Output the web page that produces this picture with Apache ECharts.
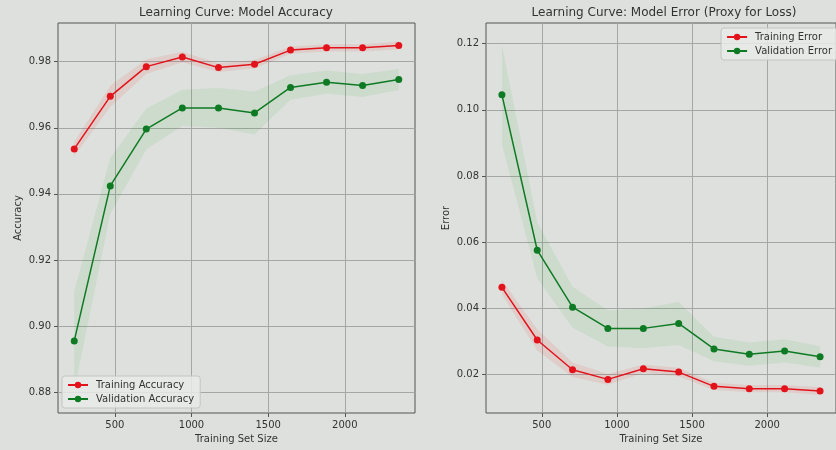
<!DOCTYPE html>
<html>
<head>
<meta charset="utf-8">
<script src="https://cdn.jsdelivr.net/npm/echarts@6/dist/echarts.min.js"></script>
<style>
  html, body { margin: 0; padding: 0; background: #dde0dd; }
  #chart { width: 836px; height: 450px; }
</style>
</head>
<body>
<div id="chart"></div>
<script>
// Learning-curve results (mean over CV folds, with fold std)
const trainSizes = [235, 470, 705, 940, 1176, 1411, 1646, 1881, 2116, 2352];
const trainAcc = [0.9536, 0.9695, 0.9785, 0.9814, 0.9782, 0.9792, 0.9835, 0.9842, 0.9842, 0.9849];
const valAcc   = [0.8955, 0.9424, 0.9596, 0.9660, 0.9660, 0.9645, 0.9722, 0.9738, 0.9728, 0.9746];
const trainErr = [0.0464, 0.0305, 0.0215, 0.0186, 0.0218, 0.0208, 0.0165, 0.0158, 0.0158, 0.0151];
const valErr   = [0.1045, 0.0576, 0.0404, 0.0340, 0.0340, 0.0355, 0.0278, 0.0262, 0.0272, 0.0254];
const trainStd = [0.0022, 0.0032, 0.0022, 0.0016, 0.0013, 0.0013, 0.0011, 0.0011, 0.0011, 0.0012];
const valStd   = [0.0150, 0.0085, 0.0062, 0.0055, 0.0060, 0.0065, 0.0037, 0.0035, 0.0035, 0.0032];

const xTicks = [500, 1000, 1500, 2000];
const accTicks = [0.88, 0.90, 0.92, 0.94, 0.96, 0.98];
const errTicks = [0.02, 0.04, 0.06, 0.08, 0.10, 0.12];

const RED = '#e3131c';
const GREEN = '#0e7a23';
const FONT = 'DejaVu Sans';
const TEXT = '#333';

const chart = echarts.init(document.getElementById('chart'), null, { renderer: 'canvas' });

function pairs(xs, ys) { return xs.map((x, i) => [x, ys[i]]); }

// Shaded ±std band drawn as a single polygon in axis coordinates
function band(gridIdx, mean, std, fill) {
  return {
    type: 'custom',
    xAxisIndex: gridIdx,
    yAxisIndex: gridIdx,
    silent: true,
    clip: true,
    z: 1,
    data: [[trainSizes[0], mean[0]]],
    renderItem: function (params, api) {
      const upper = trainSizes.map((x, i) => api.coord([x, mean[i] + std[i]]));
      const lower = trainSizes.map((x, i) => api.coord([x, mean[i] - std[i]])).reverse();
      return {
        type: 'polygon',
        shape: { points: upper.concat(lower) },
        style: { fill: fill, stroke: null, shadowBlur: 4, shadowColor: fill }
      };
    }
  };
}

function line(gridIdx, name, xs, ys, color) {
  return {
    type: 'line',
    name: name,
    xAxisIndex: gridIdx,
    yAxisIndex: gridIdx,
    data: pairs(xs, ys),
    symbol: 'circle',
    symbolSize: 7,
    z: 3,
    lineStyle: { color: color, width: 1.5 },
    itemStyle: { color: color }
  };
}

function xAxis(gridIdx) {
  return {
    type: 'value',
    gridIndex: gridIdx,
    min: 129,
    max: 2458,
    name: 'Training Set Size',
    nameLocation: 'middle',
    nameGap: 21,
    nameTextStyle: { fontFamily: FONT, fontSize: 10, color: TEXT },
    axisLine: { show: false },
    axisTick: { show: true, inside: false, length: 4, lineStyle: { color: '#555' }, customValues: xTicks },
    axisLabel: { fontFamily: FONT, fontSize: 10, color: TEXT, margin: 7, customValues: xTicks,
      formatter: v => String(Math.round(v)) },
    splitLine: { show: true, lineStyle: { color: '#a4a7a5', width: 1 } }
  };
}

function yAxis(gridIdx, name, min, max, ticks) {
  return {
    type: 'value',
    gridIndex: gridIdx,
    min: min,
    max: max,
    name: name,
    nameLocation: 'middle',
    nameGap: 35,
    nameTextStyle: { fontFamily: FONT, fontSize: 10, color: TEXT },
    axisLine: { show: false },
    axisTick: { show: true, inside: false, length: 4, lineStyle: { color: '#555' }, customValues: ticks },
    axisLabel: {
      fontFamily: FONT, fontSize: 10, color: TEXT, margin: 7, customValues: ticks,
      formatter: v => v.toFixed(2)
    },
    splitLine: { show: true, lineStyle: { color: '#a4a7a5', width: 1 } }
  };
}

const legendCommon = {
  orient: 'vertical',
  itemWidth: 20,
  itemHeight: 8,
  itemGap: 4,
  padding: [4, 6, 4, 5],
  backgroundColor: 'rgba(232,234,232,0.85)',
  borderColor: '#c4c6c4',
  borderWidth: 1,
  borderRadius: 3,
  textStyle: { fontFamily: FONT, fontSize: 10, color: TEXT, padding: [0, 0, 0, 3] }
};

chart.setOption({
  animation: false,
  backgroundColor: '#dde0dd',
  title: [
    { text: 'Learning Curve: Model Accuracy', left: 236, top: 7, textAlign: 'center', padding: 0,
      textStyle: { fontFamily: FONT, fontSize: 12, fontWeight: 'normal', color: TEXT } },
    { text: 'Learning Curve: Model Error (Proxy for Loss)', left: 664, top: 7, textAlign: 'center', padding: 0,
      textStyle: { fontFamily: FONT, fontSize: 12, fontWeight: 'normal', color: TEXT } }
  ],
  legend: [
    Object.assign({}, legendCommon, { data: ['Training Accuracy', 'Validation Accuracy'], left: 62, top: 376 }),
    Object.assign({}, legendCommon, { data: ['Training Error', 'Validation Error'], right: -2, top: 28 })
  ],
  grid: [
    { left: 58, top: 23, width: 357, height: 390, show: true, borderColor: '#555', borderWidth: 1, backgroundColor: 'transparent' },
    { left: 486, top: 23, width: 357, height: 390, show: true, borderColor: '#555', borderWidth: 1, backgroundColor: 'transparent' }
  ],
  xAxis: [xAxis(0), xAxis(1)],
  yAxis: [
    yAxis(0, 'Accuracy', 0.8737, 0.9917, accTicks),
    yAxis(1, 'Error', 0.00845, 0.1262, errTicks)
  ],
  series: [
    band(0, trainAcc, trainStd, 'rgba(255,0,0,0.08)'),
    band(0, valAcc, valStd, 'rgba(0,150,0,0.07)'),
    line(0, 'Training Accuracy', trainSizes, trainAcc, RED),
    line(0, 'Validation Accuracy', trainSizes, valAcc, GREEN),
    band(1, trainErr, trainStd, 'rgba(255,0,0,0.08)'),
    band(1, valErr, valStd, 'rgba(0,150,0,0.07)'),
    line(1, 'Training Error', trainSizes, trainErr, RED),
    line(1, 'Validation Error', trainSizes, valErr, GREEN)
  ]
});
</script>
</body>
</html>
